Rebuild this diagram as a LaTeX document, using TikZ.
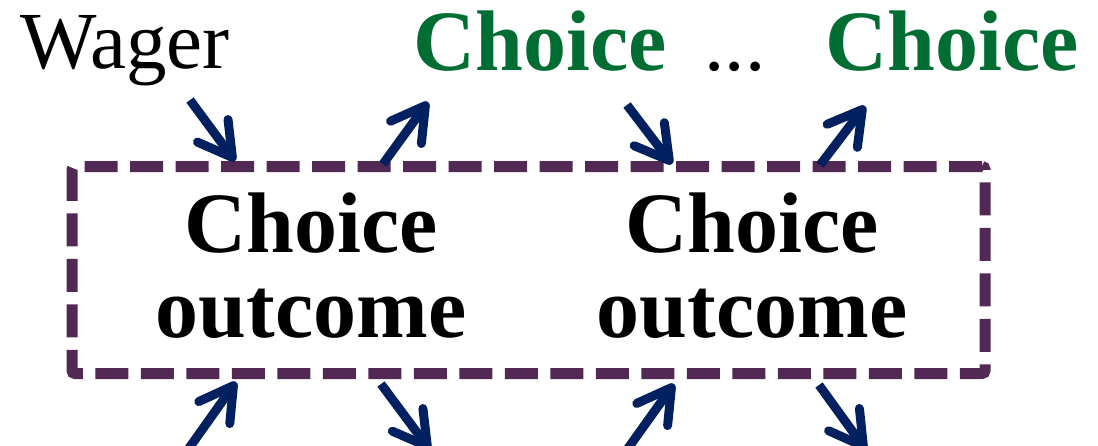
\documentclass[tikz,border=0pt]{standalone}
\usepackage{fontspec}
\setmainfont{Liberation Serif}
\usetikzlibrary{arrows.meta}
\definecolor{navy}{RGB}{0,32,96}
\definecolor{plum}{RGB}{82,40,84}
\definecolor{leaf}{RGB}{0,110,51}

\begin{document}
\begin{tikzpicture}[x=1pt,y=-1pt,
  wagertext/.style={inner sep=0pt, anchor=base, font=\fontsize{81}{81}\selectfont},
  choicetext/.style={inner sep=0pt, anchor=base, text=leaf, font=\fontsize{86}{86}\selectfont\bfseries},
  outcometext/.style={inner sep=0pt, align=center, anchor=base, font=\fontsize{86}{85}\selectfont\bfseries},
  flowarrow/.style={navy, line width=9pt, -{Straight Barb[length=33pt,width=38pt,round]}},
  framebox/.style={draw=plum, line width=11pt, dash pattern=on 33pt off 12.5pt,
    rounded corners=3pt, inner sep=0pt, minimum width=913pt, minimum height=207pt}]
\useasboundingbox (0,0) rectangle (1098,445);
\clip (0,0) rectangle (1098,445);

% top row of labels
\node[wagertext] (wager) at (125,68) {Wager};
\node[choicetext] (choiceA) at (540,70) {Choice};
\node[wagertext] (dots) at (735,70) {...};
\node[choicetext] (choiceB) at (952,70) {Choice};

% dashed frame around the two outcomes (base anchor = last line)
\node[framebox] (box) at (528.5,270) {};
\node[outcometext] (outA) at (311,337) {Choice\\outcome};
\node[outcometext] (outB) at (752,337) {Choice\\outcome};

% arrow end points above the frame
\coordinate (a1) at (190,100);  \coordinate (b1) at (235,161);
\coordinate (a2) at (383,164);  \coordinate (b2) at (428,102);
\coordinate (a3) at (627,105);  \coordinate (b3) at (672,164);
\coordinate (a4) at (820,165);  \coordinate (b4) at (865,106);
% arrow end points below the frame
\coordinate (a5) at (182,458);  \coordinate (b5) at (236,382);
\coordinate (a6) at (381,384);  \coordinate (b6) at (430,450);
\coordinate (a7) at (621,458);  \coordinate (b7) at (674,384);
\coordinate (a8) at (819,385);  \coordinate (b8) at (866,450);

\foreach \i in {1,...,8} \draw[flowarrow] (a\i) -- (b\i);
\end{tikzpicture}
\end{document}
